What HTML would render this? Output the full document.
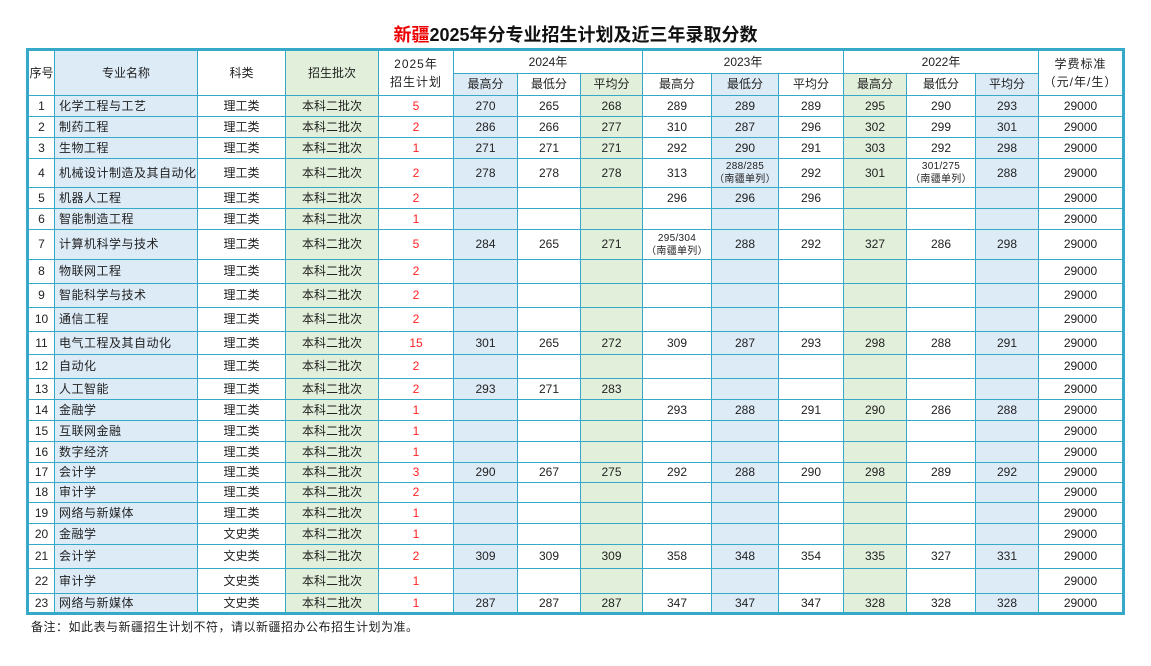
<!DOCTYPE html>
<html><head><meta charset="utf-8">
<style>
body{margin:0;width:1151px;height:666px;background:#fff;position:relative;font-family:"Liberation Sans","Noto Sans CJK SC",sans-serif;color:#222;overflow:hidden}
.title{position:absolute;top:21px;left:0;width:1151px;text-align:center;font-size:18px;font-weight:bold;color:#111}
.title span{color:#e00}
table{position:absolute;left:26px;top:48px;width:1099px;border-collapse:collapse;table-layout:fixed;border:3px solid #36a9c9;font-size:12px}
td{border:1px solid #36a9c9;text-align:center;padding:0;overflow:hidden;white-space:nowrap;line-height:13px}
td.n{text-align:left;padding-left:4px;letter-spacing:0.5px}
.b{background:#ddebf7}.g{background:#e2efda}
.r{color:#f22}
.s{font-size:10px;line-height:13px;letter-spacing:0.3px}
.h2{line-height:18px;letter-spacing:1px}
.ft{position:absolute;left:31px;top:618px;font-size:12px;color:#222;letter-spacing:0.5px}
</style></head><body>
<div class="title"><span>新疆</span>2025年分专业招生计划及近三年录取分数</div>
<table>
<colgroup><col style="width:27px"><col style="width:143px"><col style="width:88px"><col style="width:93px"><col style="width:75px"><col style="width:64px"><col style="width:63px"><col style="width:62px"><col style="width:69px"><col style="width:67px"><col style="width:65px"><col style="width:63px"><col style="width:69px"><col style="width:63px"><col style="width:85px"></colgroup>
<tr style="height:24px"><td rowspan="2">序号</td><td rowspan="2" class="b">专业名称</td><td rowspan="2">科类</td><td rowspan="2" class="g">招生批次</td><td rowspan="2" class="h2">2025年<br>招生计划</td><td colspan="3">2024年</td><td colspan="3">2023年</td><td colspan="3">2022年</td><td rowspan="2" class="h2">学费标准<br>（元/年/生）</td></tr>
<tr style="height:22px"><td class="b">最高分</td><td>最低分</td><td class="g">平均分</td><td>最高分</td><td class="b">最低分</td><td>平均分</td><td class="g">最高分</td><td>最低分</td><td class="b">平均分</td></tr>
<tr style="height:21px"><td>1</td><td class="b n">化学工程与工艺</td><td>理工类</td><td class="g">本科二批次</td><td class="r">5</td><td class="b">270</td><td>265</td><td class="g">268</td><td>289</td><td class="b">289</td><td>289</td><td class="g">295</td><td>290</td><td class="b">293</td><td>29000</td></tr>
<tr style="height:21px"><td>2</td><td class="b n">制药工程</td><td>理工类</td><td class="g">本科二批次</td><td class="r">2</td><td class="b">286</td><td>266</td><td class="g">277</td><td>310</td><td class="b">287</td><td>296</td><td class="g">302</td><td>299</td><td class="b">301</td><td>29000</td></tr>
<tr style="height:21px"><td>3</td><td class="b n">生物工程</td><td>理工类</td><td class="g">本科二批次</td><td class="r">1</td><td class="b">271</td><td>271</td><td class="g">271</td><td>292</td><td class="b">290</td><td>291</td><td class="g">303</td><td>292</td><td class="b">298</td><td>29000</td></tr>
<tr style="height:29px"><td>4</td><td class="b n">机械设计制造及其自动化</td><td>理工类</td><td class="g">本科二批次</td><td class="r">2</td><td class="b">278</td><td>278</td><td class="g">278</td><td>313</td><td class="b s">288/285<br>（南疆单列）</td><td>292</td><td class="g">301</td><td class="s">301/275<br>（南疆单列）</td><td class="b">288</td><td>29000</td></tr>
<tr style="height:21px"><td>5</td><td class="b n">机器人工程</td><td>理工类</td><td class="g">本科二批次</td><td class="r">2</td><td class="b"></td><td></td><td class="g"></td><td>296</td><td class="b">296</td><td>296</td><td class="g"></td><td></td><td class="b"></td><td>29000</td></tr>
<tr style="height:21px"><td>6</td><td class="b n">智能制造工程</td><td>理工类</td><td class="g">本科二批次</td><td class="r">1</td><td class="b"></td><td></td><td class="g"></td><td></td><td class="b"></td><td></td><td class="g"></td><td></td><td class="b"></td><td>29000</td></tr>
<tr style="height:30px"><td>7</td><td class="b n">计算机科学与技术</td><td>理工类</td><td class="g">本科二批次</td><td class="r">5</td><td class="b">284</td><td>265</td><td class="g">271</td><td class="s">295/304<br>（南疆单列）</td><td class="b">288</td><td>292</td><td class="g">327</td><td>286</td><td class="b">298</td><td>29000</td></tr>
<tr style="height:24px"><td>8</td><td class="b n">物联网工程</td><td>理工类</td><td class="g">本科二批次</td><td class="r">2</td><td class="b"></td><td></td><td class="g"></td><td></td><td class="b"></td><td></td><td class="g"></td><td></td><td class="b"></td><td>29000</td></tr>
<tr style="height:24px"><td>9</td><td class="b n">智能科学与技术</td><td>理工类</td><td class="g">本科二批次</td><td class="r">2</td><td class="b"></td><td></td><td class="g"></td><td></td><td class="b"></td><td></td><td class="g"></td><td></td><td class="b"></td><td>29000</td></tr>
<tr style="height:24px"><td>10</td><td class="b n">通信工程</td><td>理工类</td><td class="g">本科二批次</td><td class="r">2</td><td class="b"></td><td></td><td class="g"></td><td></td><td class="b"></td><td></td><td class="g"></td><td></td><td class="b"></td><td>29000</td></tr>
<tr style="height:23px"><td>11</td><td class="b n">电气工程及其自动化</td><td>理工类</td><td class="g">本科二批次</td><td class="r">15</td><td class="b">301</td><td>265</td><td class="g">272</td><td>309</td><td class="b">287</td><td>293</td><td class="g">298</td><td>288</td><td class="b">291</td><td>29000</td></tr>
<tr style="height:24px"><td>12</td><td class="b n">自动化</td><td>理工类</td><td class="g">本科二批次</td><td class="r">2</td><td class="b"></td><td></td><td class="g"></td><td></td><td class="b"></td><td></td><td class="g"></td><td></td><td class="b"></td><td>29000</td></tr>
<tr style="height:21px"><td>13</td><td class="b n">人工智能</td><td>理工类</td><td class="g">本科二批次</td><td class="r">2</td><td class="b">293</td><td>271</td><td class="g">283</td><td></td><td class="b"></td><td></td><td class="g"></td><td></td><td class="b"></td><td>29000</td></tr>
<tr style="height:21px"><td>14</td><td class="b n">金融学</td><td>理工类</td><td class="g">本科二批次</td><td class="r">1</td><td class="b"></td><td></td><td class="g"></td><td>293</td><td class="b">288</td><td>291</td><td class="g">290</td><td>286</td><td class="b">288</td><td>29000</td></tr>
<tr style="height:21px"><td>15</td><td class="b n">互联网金融</td><td>理工类</td><td class="g">本科二批次</td><td class="r">1</td><td class="b"></td><td></td><td class="g"></td><td></td><td class="b"></td><td></td><td class="g"></td><td></td><td class="b"></td><td>29000</td></tr>
<tr style="height:21px"><td>16</td><td class="b n">数字经济</td><td>理工类</td><td class="g">本科二批次</td><td class="r">1</td><td class="b"></td><td></td><td class="g"></td><td></td><td class="b"></td><td></td><td class="g"></td><td></td><td class="b"></td><td>29000</td></tr>
<tr style="height:20px"><td>17</td><td class="b n">会计学</td><td>理工类</td><td class="g">本科二批次</td><td class="r">3</td><td class="b">290</td><td>267</td><td class="g">275</td><td>292</td><td class="b">288</td><td>290</td><td class="g">298</td><td>289</td><td class="b">292</td><td>29000</td></tr>
<tr style="height:20px"><td>18</td><td class="b n">审计学</td><td>理工类</td><td class="g">本科二批次</td><td class="r">2</td><td class="b"></td><td></td><td class="g"></td><td></td><td class="b"></td><td></td><td class="g"></td><td></td><td class="b"></td><td>29000</td></tr>
<tr style="height:21px"><td>19</td><td class="b n">网络与新媒体</td><td>理工类</td><td class="g">本科二批次</td><td class="r">1</td><td class="b"></td><td></td><td class="g"></td><td></td><td class="b"></td><td></td><td class="g"></td><td></td><td class="b"></td><td>29000</td></tr>
<tr style="height:21px"><td>20</td><td class="b n">金融学</td><td>文史类</td><td class="g">本科二批次</td><td class="r">1</td><td class="b"></td><td></td><td class="g"></td><td></td><td class="b"></td><td></td><td class="g"></td><td></td><td class="b"></td><td>29000</td></tr>
<tr style="height:24px"><td>21</td><td class="b n">会计学</td><td>文史类</td><td class="g">本科二批次</td><td class="r">2</td><td class="b">309</td><td>309</td><td class="g">309</td><td>358</td><td class="b">348</td><td>354</td><td class="g">335</td><td>327</td><td class="b">331</td><td>29000</td></tr>
<tr style="height:25px"><td>22</td><td class="b n">审计学</td><td>文史类</td><td class="g">本科二批次</td><td class="r">1</td><td class="b"></td><td></td><td class="g"></td><td></td><td class="b"></td><td></td><td class="g"></td><td></td><td class="b"></td><td>29000</td></tr>
<tr style="height:20px"><td>23</td><td class="b n">网络与新媒体</td><td>文史类</td><td class="g">本科二批次</td><td class="r">1</td><td class="b">287</td><td>287</td><td class="g">287</td><td>347</td><td class="b">347</td><td>347</td><td class="g">328</td><td>328</td><td class="b">328</td><td>29000</td></tr>
</table>
<div class="ft">备注：如此表与新疆招生计划不符，请以新疆招办公布招生计划为准。</div>
</body></html>
